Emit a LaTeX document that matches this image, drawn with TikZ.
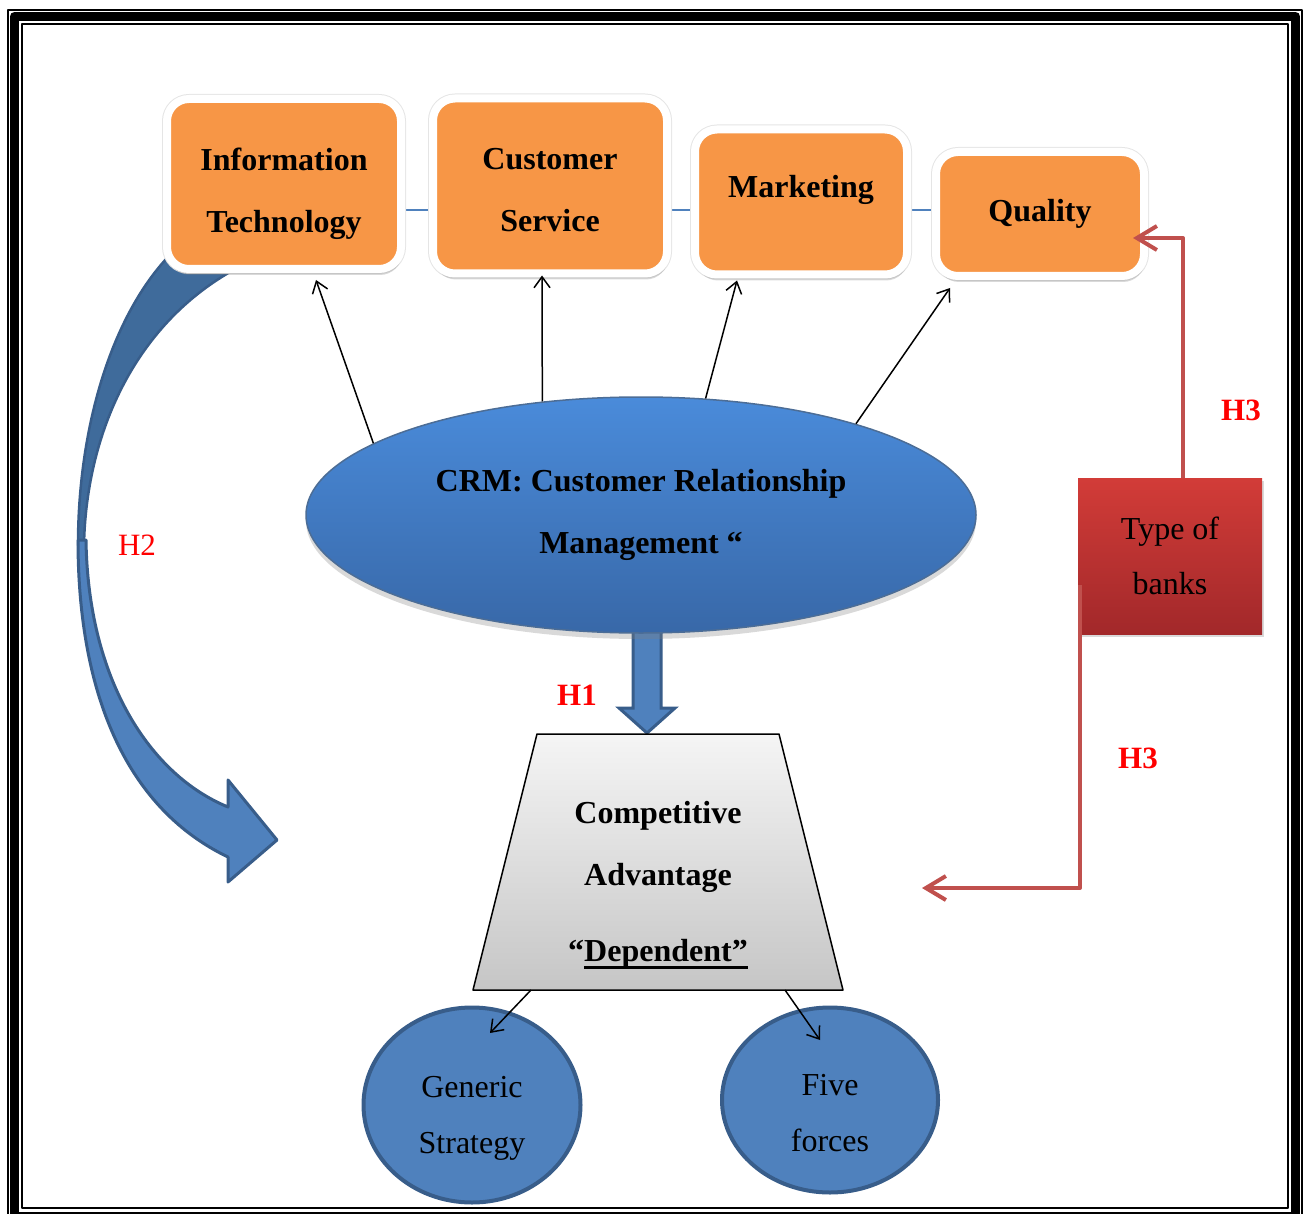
\documentclass[tikz,border=0pt]{standalone}
\usepackage{fontspec}
\setmainfont{Liberation Serif}
\usetikzlibrary{arrows.meta,shapes.geometric,shadows,calc,backgrounds}

\definecolor{orng}{HTML}{F79646}
\definecolor{accblue}{HTML}{4F81BD}
\definecolor{darkblue}{HTML}{385D8A}
\definecolor{backblue}{HTML}{3F6B9B}
\definecolor{accred}{HTML}{C0504D}

\newcommand\bigtxt{\fontsize{32}{62}\selectfont}
\newcommand\ulthick[1]{\setbox0\hbox{#1}\rlap{\rule[-8pt]{\wd0}{3pt}}\box0}

\tikzset{box/.style={draw=white, line width=8pt, fill=orng, rounded corners=22pt, inner sep=0pt,
  preaction={draw=black!10, line width=10pt},
  align=center, font=\bigtxt\bfseries, drop shadow={shadow xshift=1pt, shadow yshift=-6pt, opacity=.3}}}
\tikzset{disc/.style={ellipse, draw=darkblue, line width=4pt, fill=accblue, inner sep=0pt,
  align=center, text height=103pt, font=\fontsize{32}{56}\selectfont}}
\tikzset{ptr/.style={-{Straight Barb[length=11pt,width=16pt]}, line width=1.5pt}}
\tikzset{hyp/.style={accred, line width=4pt, -{Straight Barb[length=20pt,width=24pt]}}}
\tikzset{hlab/.style={text=red, inner sep=0pt, font=\fontsize{31}{31}\selectfont}}

\begin{document}
\begin{tikzpicture}[x=1pt, y=-1pt, line join=round]
\useasboundingbox (0,0) rectangle (1305,1214);
% frame
\draw[line width=1.5pt] (8,10) rectangle (1302,1240);
\draw[line width=9pt] (14.5,16.5) rectangle (1295.5,1216);
\draw[line width=2pt] (21.5,24) rectangle (1287.5,1208);

% H2 curved arrow
\filldraw[fill=backblue, draw=darkblue, line width=2.5pt] (167,258) .. controls (110,320) and (78,430) .. (78,545)
  -- (84,545) .. controls (86,440) and (130,330) .. (230,272) -- cycle;
\filldraw[fill=accblue, draw=darkblue, line width=3pt] (78,540) .. controls (78,700) and (130,810) .. (228,857)
  -- (228,882) -- (277,840) -- (228,780) -- (228,807) .. controls (150,775) and (88,680) .. (86,540) -- cycle;

% top row
\node[box, minimum width=234pt, minimum height=170pt, text height=104pt] (it) at (284,184) {Information\\Technology};
\node[box, minimum width=234pt, minimum height=175pt, text height=91pt] (cs) at (550,186) {Customer\\Service};
\node[box, minimum width=212pt, minimum height=145pt, text depth=31pt] (mk) at (801,202) {Marketing};
\node[box, minimum width=208pt, minimum height=124pt] (qu) at (1040,214) {Quality};
\begin{scope}[on background layer]
\draw[accblue, line width=2pt] (it.center |- 0,210) -- (qu.center |- 0,210);
\end{scope}

% H1 block arrow
\filldraw[fill=accblue, draw=darkblue, line width=3pt, line join=miter] (633,625) -- (661,625) -- (661,708)
  -- (675,708) -- (647,733) -- (619,708) -- (633,708) -- cycle;

\node[ellipse, minimum width=670pt, minimum height=236pt, inner sep=0pt, draw=darkblue!90, line width=1.5pt,
  top color={rgb,255:red,74;green,139;blue,218}, bottom color={rgb,255:red,56;green,104;blue,168},
  drop shadow={shadow xshift=0pt, shadow yshift=-6pt, opacity=.3},
  align=center, font=\bigtxt\bfseries] (crm) at (641,515) {CRM: Customer Relationship\\Management “};

\draw[ptr] (crm.165) -- ($(it.south)+(32,7)$);
\draw[ptr] (crm.131) -- ($(cs.south)+(-8,-2)$);
\draw[ptr] (crm.61) -- ($(mk.south)+(-64,2)$);
\draw[ptr] (crm.23) -- ($(qu.south)+(-90,8)$);

% competitive advantage
\draw[line width=1.5pt, top color=gray!8, bottom color=gray!45] (537,734) -- (779,734) -- (843,990) -- (473,990) -- cycle;
\node[inner sep=0pt, align=center, font=\bigtxt\bfseries] (ca) at (658,885)
  {Competitive\\Advantage\\[14pt]“\ulthick{Dependent”}};
\coordinate (cabl) at (531,990);
\coordinate (cabr) at (785,990);

\node[disc, minimum width=217pt, minimum height=195pt] (gs) at (472,1105) {Generic\\Strategy};
\node[disc, minimum width=216pt, minimum height=185pt] (ff) at (830,1100) {Five\\forces};
\draw[ptr] (cabl) -- ($(gs)+(18,-72)$);
\draw[ptr] (cabr) -- ($(ff)+(-10,-60)$);

% type of banks
\node[minimum width=184pt, minimum height=156pt, inner sep=0pt, align=center,
  top color={rgb,255:red,210;green,60;blue,56}, bottom color={rgb,255:red,162;green,40;blue,42},
  drop shadow={shadow xshift=2pt, shadow yshift=-3pt, opacity=.3},
  font=\fontsize{32}{55}\selectfont] (banks) at (1170,556) {Type of\\banks};
\coordinate (h3end) at (922,888);
\draw[hyp] ([xshift=13pt]banks.north) |- ($(qu.east)+(-15,24)$);
\draw[hyp] ($(banks.west)+(2,29)$) |- (h3end);

% labels
\node[hlab, font=\fontsize{31}{31}\selectfont\bfseries] (h1) at (577,695) {H1};
\node[hlab] (h2) at (137,545) {H2};
\node[hlab, font=\fontsize{31}{31}\selectfont\bfseries] (h3a) at (1241,410) {H3};
\node[hlab, font=\fontsize{31}{31}\selectfont\bfseries] (h3b) at (1138,758) {H3};
\end{tikzpicture}
\end{document}
